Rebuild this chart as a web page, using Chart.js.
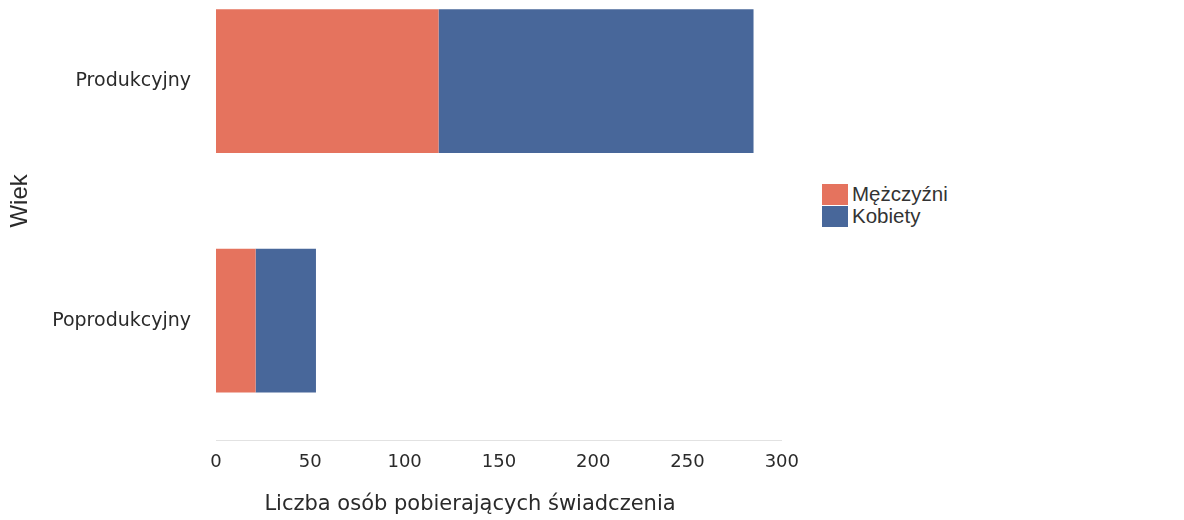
<!DOCTYPE html>
<html>
<head>
<meta charset="utf-8">
<script src="https://cdn.jsdelivr.net/npm/chart.js@4"></script>
<style>
  html, body { margin: 0; padding: 0; background: #fff; overflow: hidden; }
  #wrap { position: relative; width: 1184px; height: 520px; overflow: hidden; }
  /* wykres jest przycięty u góry, jak na oryginale */
  #box { position: absolute; left: 0; top: -75px; width: 810px; height: 595px; }
  #legenda { position: absolute; left: 822px; top: 183px; font-family: "Liberation Sans", Arial, sans-serif; font-size: 20.5px; color: #333; }
  #legenda div { display: flex; align-items: center; height: 22px; }
  #legenda span.kolor { display: inline-block; width: 26px; height: 21px; margin-right: 4px; }
  #tytulX { position: absolute; left: 0; width: 940px; top: 490px; line-height: 26px; text-align: center; font-family: "DejaVu Sans", sans-serif; font-size: 21px; color: #2a2a2a; }
</style>
</head>
<body>
<div id="wrap">
  <div id="box"><canvas id="wykres"></canvas></div>
  <div id="legenda"></div>
  <div id="tytulX"></div>
</div>
<script>
// Dane
const kategorie = ['Produkcyjny', 'Poprodukcyjny'];
const mezczyzni = [118, 21];
const kobiety = [167, 32];
const serie = ['Mężczyźni', 'Kobiety'];
const kolory = ['#E5735E', '#48679A'];
const ticksX = [0, 50, 100, 150, 200, 250, 300];
const tytulOsiX = 'Liczba osób pobierających świadczenia';
const tytulOsiY = 'Wiek';

const datasets = [
  { label: serie[0], data: mezczyzni, backgroundColor: kolory[0] },
  { label: serie[1], data: kobiety, backgroundColor: kolory[1] }
];

// legenda w HTML, po prawej
let legendaHTML = '';
serie.forEach((s, i) => {
  legendaHTML += `<div><span class="kolor" style="background:${kolory[i]}"></span>${s}</div>`;
});
document.getElementById('legenda').innerHTML = legendaHTML;
// tytuł osi X (na oryginale nie jest wyśrodkowany pod osią)
document.getElementById('tytulX').textContent = tytulOsiX;

const ctx = document.getElementById('wykres').getContext('2d');
new Chart(ctx, {
  type: 'bar',
  data: { labels: kategorie, datasets: datasets },
  options: {
    indexAxis: 'y',
    responsive: true,
    maintainAspectRatio: false,
    animation: false,
    layout: { padding: { left: 0, right: 24, top: 0, bottom: 36 } },
    datasets: { bar: { categoryPercentage: 1.0, barPercentage: 0.6 } },
    scales: {
      x: {
        stacked: true,
        min: ticksX[0],
        max: ticksX[ticksX.length - 1],
        afterBuildTicks: (axis) => { axis.ticks = ticksX.map(v => ({ value: v })); },
        grid: { display: false, drawTicks: false },
        border: { display: true, color: '#e2e2e2', width: 1 },
        ticks: { color: '#2a2a2a', padding: 11, font: { family: 'DejaVu Sans', size: 18 } }
      },
      y: {
        stacked: true,
        afterFit: (axis) => { axis.width = 216; },
        grid: { display: false, drawTicks: false },
        border: { display: false },
        ticks: { color: '#2a2a2a', padding: 25, font: { family: 'DejaVu Sans', size: 19 } },
        title: { display: true, text: tytulOsiY, color: '#2a2a2a', padding: { top: 6, bottom: 0 }, font: { family: 'Liberation Sans', size: 24 } }
      }
    },
    plugins: {
      legend: { display: false },
      tooltip: { enabled: false }
    }
  }
});
</script>
</body>
</html>
